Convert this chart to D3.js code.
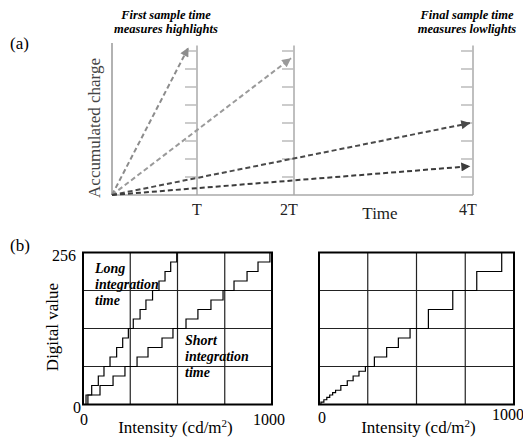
<!DOCTYPE html>
<html>
<head>
<meta charset="utf-8">
<script src="https://cdn.jsdelivr.net/npm/d3@7"></script>
<style>
  body { margin: 0; background: #fff; }
  svg { font-family: "Liberation Serif", "Times New Roman", serif; }
</style>
</head>
<body>
<div id="chart"></div>
<script>
// Panel (a): accumulated charge ramps, sampled at T, 2T and 4T
const sampleTimes = [1, 2, 4];
const sampleLabels = ["T", "2T", "4T"];
const chargeTicks = [1, 2, 3, 4, 5, 6, 7, 8];
const rampEndTime = [0.9, 1.97, 3.97, 3.97];
const rampEndCharge = [8.2, 7.6, 4.0, 1.6];

// Panel (b): staircase transfer curves, [intensity, digital value] at each rise
const intensityTicks = [250, 500, 750];
const digitalTicks = [64, 128, 192];
const longSteps = [[0, 0], [16, 16], [46, 32], [81, 48], [111, 64], [143, 80], [178, 96], [210, 112],
  [240, 128], [266, 144], [302, 160], [333, 176], [368, 192], [402, 208], [434, 224], [464, 240], [496, 256]];
const shortSteps = [[0, 0], [26, 16], [90, 32], [159, 48], [222, 64], [286, 80], [344, 96], [418, 112],
  [476, 128], [545, 144], [608, 160], [677, 176], [741, 192], [799, 208], [868, 224], [926, 240], [989, 256]];
const combinedSteps = [[0, 0], [10, 4], [25, 8], [40, 12], [55, 16], [70, 20], [85, 24], [112, 32],
  [145, 40], [175, 48], [205, 56], [238, 64], [284, 80], [347, 96], [407, 112], [467, 128],
  [561, 160], [686, 192], [809, 224], [937, 256]];

const width = 523, height = 438;
const svg = d3.select("#chart").append("svg")
    .attr("width", width)
    .attr("height", height);

// ---------- panel (a) ----------
const xa = d3.scaleLinear().domain([0, 1, 2, 4]).range([112, 197, 294, 473]);
const ya = d3.scaleLinear().domain([0, 8.5]).range([195, 42]);
const rampColor = ["#8c8c8c", "#9a9a9a", "#4a4a4a", "#3c3c3c"];

const pa = svg.append("g").attr("class", "panel-a");

// axis frame
pa.append("line")
    .attr("x1", xa(0)).attr("x2", xa(0))
    .attr("y1", ya(0)).attr("y2", ya(8.45))
    .attr("stroke", "#999").attr("stroke-width", 1.5);
pa.append("line")
    .attr("x1", xa(0)).attr("x2", xa(4))
    .attr("y1", ya(0)).attr("y2", ya(0))
    .attr("stroke", "#aaa").attr("stroke-width", 1.5);

// sample-time rulers with ticks to their left
sampleTimes.forEach((t, i) => {
  const g = pa.append("g");
  g.append("line")
      .attr("x1", xa(t)).attr("x2", xa(t))
      .attr("y1", ya(0)).attr("y2", ya(8.3))
      .attr("stroke", "#aaa").attr("stroke-width", 1.5);
  g.selectAll(".tick")
    .data(chargeTicks)
    .join("line")
      .attr("x1", xa(t) - 12).attr("x2", xa(t))
      .attr("y1", d => ya(d)).attr("y2", d => ya(d))
      .attr("stroke", "#bbb").attr("stroke-width", 1.5);
  g.append("text")
      .attr("x", xa(t) - (sampleLabels[i].length - 1) * 5)
      .attr("y", 215)
      .attr("text-anchor", "middle")
      .style("font-size", "16px")
      .style("fill", "#222")
      .text(sampleLabels[i]);
});

// arrow heads
const defs = svg.append("defs");
rampColor.forEach((c, i) => {
  defs.append("marker")
      .attr("id", "arrow" + i)
      .attr("markerUnits", "userSpaceOnUse")
      .attr("viewBox", "0 0 10 10")
      .attr("refX", 10).attr("refY", 5)
      .attr("markerWidth", 12).attr("markerHeight", 9)
      .attr("orient", "auto")
    .append("path")
      .attr("d", "M0,0L10,5L0,10Z")
      .attr("fill", c);
});

// dashed ramps from the origin
pa.selectAll(".ramp")
  .data(rampEndTime.map((t, i) => ({ t, q: rampEndCharge[i], i })))
  .join("line")
    .attr("class", "ramp")
    .attr("x1", xa(0)).attr("y1", ya(0))
    .attr("x2", d => xa(d.t)).attr("y2", d => ya(d.q))
    .attr("stroke", d => rampColor[d.i])
    .attr("stroke-width", 2)
    .attr("stroke-dasharray", "5,3")
    .attr("marker-end", d => `url(#arrow${d.i})`);

pa.append("text")
    .attr("transform", "translate(100,128) rotate(-90)")
    .attr("text-anchor", "middle")
    .style("font-size", "17px")
    .style("fill", "#444")
    .text("Accumulated charge");

pa.append("text")
    .attr("x", 380).attr("y", 219)
    .attr("text-anchor", "middle")
    .style("font-size", "17px")
    .style("fill", "#222")
    .text("Time");

const noteA = [
  { x: 166, lines: ["First sample time", "measures highlights"] },
  { x: 467, lines: ["Final sample time", "measures lowlights"] }
];
noteA.forEach(n => {
  n.lines.forEach((s, k) => {
    pa.append("text")
        .attr("x", n.x).attr("y", 19 + k * 14)
        .attr("text-anchor", "middle")
        .style("font-size", "12.5px")
        .style("font-weight", "bold")
        .style("font-style", "italic")
        .text(s);
  });
});

svg.append("text").attr("x", 10).attr("y", 49)
    .style("font-size", "17px").text("(a)");
svg.append("text").attr("x", 10).attr("y", 251)
    .style("font-size", "17px").text("(b)");

// ---------- panel (b) ----------
const yb = d3.scaleLinear().domain([0, 256]).range([404.5, 252.5]);

function stepPanel(x0, x1, steps) {
  const x = d3.scaleLinear().domain([0, 1000]).range([x0, x1]);
  const g = svg.append("g");

  g.selectAll(".vgrid")
    .data(intensityTicks)
    .join("line")
      .attr("x1", d => x(d)).attr("x2", d => x(d))
      .attr("y1", yb(0)).attr("y2", yb(256))
      .attr("stroke", "#222").attr("stroke-width", 1.2);
  g.selectAll(".hgrid")
    .data(digitalTicks)
    .join("line")
      .attr("x1", x(0)).attr("x2", x(1000))
      .attr("y1", d => yb(d)).attr("y2", d => yb(d))
      .attr("stroke", "#222").attr("stroke-width", 1.2);

  const line = d3.line()
      .x(d => x(d[0]))
      .y(d => yb(d[1]))
      .curve(d3.curveStepAfter);
  steps.forEach(s => {
    g.append("path")
        .datum(s)
        .attr("d", line)
        .attr("fill", "none")
        .attr("stroke", "#000")
        .attr("stroke-width", 1.2);
  });

  g.append("rect")
      .attr("x", x(0)).attr("y", yb(256))
      .attr("width", x(1000) - x(0))
      .attr("height", yb(0) - yb(256))
      .attr("fill", "none")
      .attr("stroke", "#000")
      .attr("stroke-width", 2);
  return { g, x };
}

const left = stepPanel(83, 272, [longSteps, shortSteps]);
const right = stepPanel(319, 514, [combinedSteps]);

// tick labels
left.g.append("text").attr("x", 76).attr("y", 261).attr("text-anchor", "end")
    .style("font-size", "16px").text("256");
left.g.append("text").attr("x", 81).attr("y", 413).attr("text-anchor", "end")
    .style("font-size", "16px").text("0");
left.g.append("text").attr("x", left.x(0) + 1).attr("y", 425).attr("text-anchor", "middle")
    .style("font-size", "16px").text("0");
left.g.append("text").attr("x", left.x(1000) - 3).attr("y", 425).attr("text-anchor", "middle")
    .style("font-size", "16px").text("1000");
right.g.append("text").attr("x", right.x(0) + 3).attr("y", 423).attr("text-anchor", "middle")
    .style("font-size", "16px").text("0");
right.g.append("text").attr("x", right.x(1000) - 6).attr("y", 420).attr("text-anchor", "middle")
    .style("font-size", "16px").text("1000");

[left, right].forEach(p => {
  const t = p.g.append("text")
      .attr("x", (p.x(0) + p.x(1000)) / 2 + (p === right ? 2 : -2))
      .attr("y", 433)
      .attr("text-anchor", "middle")
      .style("font-size", "17px");
  t.append("tspan").text("Intensity (cd/m");
  t.append("tspan").attr("dy", -6).style("font-size", "11px").text("2");
  t.append("tspan").attr("dy", 6).text(")");
});

svg.append("text")
    .attr("transform", "translate(58,327) rotate(-90)")
    .attr("text-anchor", "middle")
    .style("font-size", "17px")
    .text("Digital value");

const noteB = [
  { x: 95, y: 273, lines: ["Long", "integration", "time"] },
  { x: 185, y: 345, lines: ["Short", "integration", "time"] }
];
noteB.forEach(n => {
  n.lines.forEach((s, k) => {
    left.g.append("text")
        .attr("x", n.x).attr("y", n.y + k * 16)
        .style("font-size", "14px")
        .style("font-weight", "bold")
        .style("font-style", "italic")
        .text(s);
  });
});
</script>
</body>
</html>
